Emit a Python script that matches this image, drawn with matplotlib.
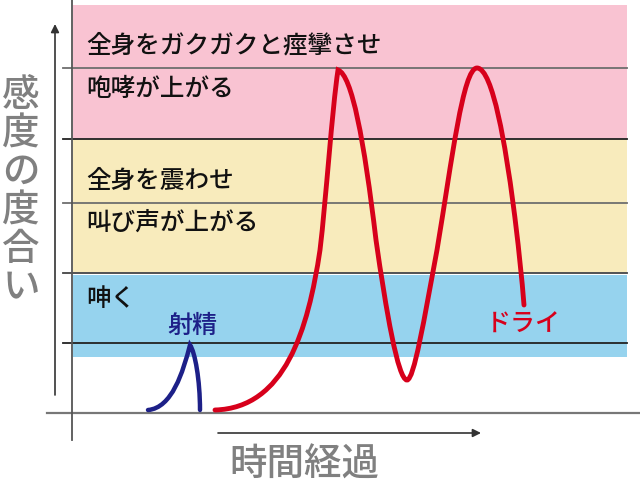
import matplotlib
matplotlib.use("Agg")
import matplotlib.pyplot as plt
from matplotlib.path import Path
from matplotlib.patches import PathPatch

plt.rcParams['font.family'] = ['Noto Sans CJK JP', 'DejaVu Sans']

# level bands (top, bottom) in pixel-like units, y grows downward
band_colors = ['#f9c3d2', '#f8ebbc', '#96d3ee']
band_tops = [5, 139, 275]
band_bottoms = [139, 272, 357]

# horizontal guide lines
line_levels = [68, 139, 203, 273, 343]
line_colors = ['#6e6e6e', '#222222', '#6e6e6e', '#444444', '#222222']

# level labels
level_labels = ['全身をガクガクと痙攣させ', '咆哮が上がる', '全身を震わせ', '叫び声が上がる', '呻く']
label_levels = [45, 89, 181, 223, 299]

# curves as cubic bezier control points (time, level)
blue_pts = [(148, 410), (172, 408), (183, 372), (190, 345),
            (195, 352), (200, 380), (200, 410)]
red_pts = [(215, 410), (285, 408), (308, 330), (320, 250),
           (326, 200), (332, 110), (338, 70),
           (352, 75), (364, 140), (376, 240),
           (386, 310), (398, 380), (407, 380),
           (414, 380), (424, 320), (437, 250),
           (452, 160), (463, 68), (477, 68),
           (493, 68), (506, 150), (513, 203),
           (518, 240), (522, 280), (524, 305)]


def bezier_path(pts):
    codes = [Path.MOVETO] + [Path.CURVE4] * (len(pts) - 1)
    return Path(pts, codes)


def create_visualization():
    fig = plt.figure(figsize=(6.4, 4.88), dpi=100)
    ax = fig.add_axes([0, 0, 1, 1])
    ax.set_xlim(0, 640)
    ax.set_ylim(488, 0)
    ax.axis('off')

    # colored bands
    for c, t, b in zip(band_colors, band_tops, band_bottoms):
        ax.fill_between([73, 627], t, b, color=c, lw=0, zorder=1)

    # guide lines
    for y, c in zip(line_levels, line_colors):
        ax.plot([63, 627], [y, y], color=c, lw=1.3, zorder=2)
    ax.plot([47, 640], [413, 413], color='#777777', lw=1.6, zorder=2)
    ax.plot([72, 72], [0, 440], color='#555555', lw=1.3, zorder=2)

    # axis arrows
    ax.annotate('', xy=(55, 24), xytext=(55, 395),
                arrowprops=dict(arrowstyle='-|>', color='#333333', lw=1.2,
                                mutation_scale=12, shrinkA=0, shrinkB=0))
    ax.annotate('', xy=(481, 433), xytext=(218, 433),
                arrowprops=dict(arrowstyle='-|>', color='#333333', lw=1.2,
                                mutation_scale=12, shrinkA=0, shrinkB=0))

    # curves
    ax.add_patch(PathPatch(bezier_path(blue_pts), fill=False, ec='#1d2088',
                           lw=3.2, capstyle='round', zorder=4))
    ax.add_patch(PathPatch(bezier_path(red_pts), fill=False, ec='#d7001b',
                           lw=3.5, capstyle='round', zorder=4))

    # level labels
    for s, y in zip(level_labels, label_levels):
        ax.text(86, y, s, fontsize=17.7, color='#111111', va='center', ha='left',
                fontweight='medium', zorder=5)

    ax.text(192, 326, '射精', fontsize=18, color='#1d2088', ha='center', va='center',
            fontweight='medium', zorder=5)
    ax.text(523, 325, 'ドライ', fontsize=18, color='#d7001b', ha='center', va='center',
            fontweight='medium', zorder=5)

    # vertical axis title
    for i, ch in enumerate('感度の度合い'):
        ax.text(21, 95 + i * 38.5, ch, fontsize=27, color='#808080',
                ha='center', va='center', fontweight='medium', zorder=5)
    ax.text(304, 465, '時間経過', fontsize=27, color='#808080',
            ha='center', va='center', fontweight='medium', zorder=5)

    plt.savefig('out.png', dpi=100)
    plt.close()


def main():
    create_visualization()


if __name__ == "__main__":
    main()
